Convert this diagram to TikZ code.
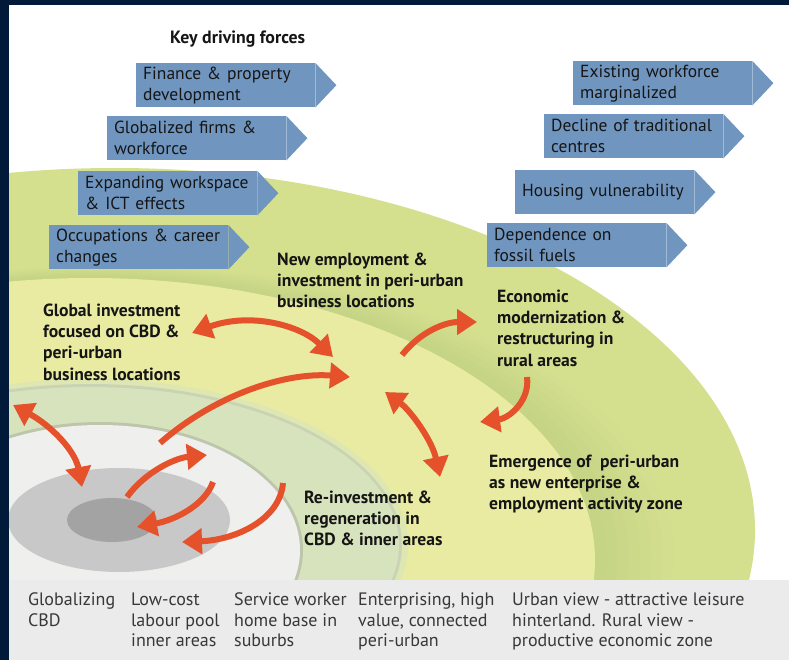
\documentclass[tikz,border=0pt]{standalone}
\usepackage{fontspec}
\setmainfont{PT Sans}
\newfontfamily\legendfont{PT Sans}
\usetikzlibrary{arrows.meta,calc}

\definecolor{navy}{HTML}{021A3A}
\definecolor{outergreen}{HTML}{D5E08F}
\definecolor{bandgreen}{HTML}{C3D283}
\definecolor{paleyellow}{HTML}{E9EBA2}
\definecolor{lightgreen}{HTML}{D7E3BD}
\definecolor{offwhite}{HTML}{EFEFEE}
\definecolor{midgray}{HTML}{C8C8C8}
\definecolor{darkgray}{HTML}{A3A3A3}
\definecolor{boxblue}{HTML}{7096C0}
\definecolor{arroworange}{HTML}{E4512B}
\definecolor{panelgray}{HTML}{EAEBEA}
\definecolor{inktext}{HTML}{151515}

\tikzset{
  forcebox/.style={fill=boxblue, inner xsep=7pt, inner ysep=0pt, minimum height=44pt,
    text width=165pt, align=left, anchor=north west, text=inktext,
    font=\fontsize{17.5}{21}\selectfont},
  zonelabel/.style={anchor=north west, align=left, inner sep=0pt, text=inktext,
    font=\bfseries\fontsize{17.6}{21.3}\selectfont},
  legendtext/.style={anchor=north west, align=left, inner sep=0pt, text=inktext!85,
    font=\legendfont\fontsize{18}{20.7}\selectfont},
  flow/.style={draw=arroworange, line width=6pt,
    arrows={-Triangle[length=20pt,width=25pt]}},
  flowboth/.style={draw=arroworange, line width=6pt,
    arrows={Triangle[length=20pt,width=25pt]-Triangle[length=20pt,width=25pt]}}
}

\begin{document}
\begin{tikzpicture}[x=1pt,y=-1pt]
\useasboundingbox (0,0) rectangle (789,660);
\fill[white] (0,0) rectangle (789,660);

% ---- concentric zones ----
\begin{scope}
\clip (9,5) rectangle (789,580);
\fill[outergreen] (115,530) ellipse [x radius=640pt, y radius=362pt];
\foreach \i in {0,...,8}{
  \pgfmathsetmacro\cx{120-30*\i/8}
  \pgfmathsetmacro\cy{555+5*\i/8}
  \pgfmathsetmacro\rx{565-60*\i/8}
  \pgfmathsetmacro\ry{292-10*\i/8}
  \pgfmathtruncatemacro\pc{100*\i/8}
  \fill[bandgreen!\pc!outergreen] (\cx,\cy) ellipse [x radius=\rx*1pt, y radius=\ry*1pt];
}
\fill[paleyellow] (90,560) ellipse [x radius=505pt, y radius=282pt];
\fill[lightgreen!60!paleyellow] (90,545) ellipse [x radius=318pt, y radius=166pt];
\fill[lightgreen!85!gray] (90,545) ellipse [x radius=312pt, y radius=161pt];
\fill[lightgreen] (90,545) ellipse [x radius=309pt, y radius=158pt];
\fill[lightgreen!70!gray] (100,550) ellipse [x radius=203pt, y radius=128pt];
\fill[offwhite] (100,550) ellipse [x radius=200pt, y radius=125pt];
\fill[midgray] (119,520) ellipse [x radius=111pt, y radius=52pt];
\fill[darkgray] (112,520) ellipse [x radius=45pt, y radius=22pt];
\end{scope}

% ---- frame and legend panel ----
\fill[panelgray] (9,580) rectangle (789,660);
\fill[navy] (0,0) rectangle (9,660);
\fill[navy] (0,0) rectangle (789,5);

% ---- title ----
\node[anchor=north west, inner sep=0pt, text=inktext, font=\bfseries\fontsize{17.8}{20}\selectfont]
  (title) at (170,31) {Key driving forces};

% ---- driving force boxes ----
\node[forcebox] (f1) at (136,63) {Finance \& property\\development};
\node[forcebox] (f2) at (107,116) {Globalized firms \&\\workforce};
\node[forcebox] (f3) at (78,171) {Expanding workspace\\\& ICT effects};
\node[forcebox] (f4) at (49,225) {Occupations \& career\\changes};
\node[forcebox] (r1) at (573,61) {Existing workforce\\marginalized};
\node[forcebox] (r2) at (544,114) {Decline of traditional\\centres};
\node[forcebox] (r3) at (515,170) {Housing vulnerability};
\node[forcebox] (r4) at (487,223) {Dependence on\\fossil fuels};
\foreach \n in {f1,f2,f3,f4,r1,r2,r3,r4}{
  \fill[boxblue] (\n.north east) -- ([xshift=21pt]\n.east) -- (\n.south east) -- cycle;
}

% ---- zone labels ----
\node[zonelabel] (global) at (43,303.5) {Global investment\\focused on CBD \&\\peri-urban\\business locations};
\node[zonelabel] (newemp) at (277,252.5) {New employment \&\\investment in peri-urban\\business locations};
\node[zonelabel] (econ) at (497,289.5) {Economic\\modernization \&\\restructuring in\\rural areas};
\node[zonelabel] (emerg) at (489,454.5) {Emergence of\ \ peri-urban\\as new enterprise \&\\employment activity zone};
\node[zonelabel] (reinv) at (304,490.5) {Re-investment \&\\regeneration in\\CBD \& inner areas};

% ---- arrow end points ----
\coordinate (a1s) at (192,333); \coordinate (a1e) at (333,357);
\coordinate (a2s) at (160,443); \coordinate (a2e) at (350,377);
\coordinate (a3s) at (13,405);  \coordinate (a3e) at (82,487);
\coordinate (a4s) at (127,497); \coordinate (a4e) at (207,455);
\coordinate (a5s) at (213,482); \coordinate (a5e) at (137,527);
\coordinate (a6s) at (283,483); \coordinate (a6e) at (182,542);
\coordinate (a7s) at (402,355); \coordinate (a7e) at (477,322);
\coordinate (a8s) at (527,377); \coordinate (a8e) at (480,422);
\coordinate (a9s) at (385,392); \coordinate (a9e) at (440,477);

\draw[flowboth] (a1s) .. controls (250,312) and (300,325) .. (a1e);
\draw[flow] (a2s) .. controls (215,395) and (285,372) .. (a2e);
\draw[flowboth] (a3s) .. controls (50,425) and (75,450) .. (a3e);
\draw[flow] (a4s) .. controls (145,472) and (175,458) .. (a4e);
\draw[flow] (a5s) .. controls (205,505) and (175,520) .. (a5e);
\draw[flow] (a6s) .. controls (280,520) and (235,540) .. (a6e);
\draw[flow] (a7s) .. controls (420,332) and (445,322) .. (a7e);
\draw[flow] (a8s) .. controls (530,400) and (510,418) .. (a8e);
\draw[flowboth] (a9s) .. controls (410,410) and (432,440) .. (a9e);

% ---- legend ----
\node[legendtext] (lg1) at (28,592.5) {Globalizing\\CBD};
\node[legendtext] (lg2) at (131,592.5) {Low-cost\\labour pool\\inner areas};
\node[legendtext] (lg3) at (234,592.5) {Service worker\\home base in\\suburbs};
\node[legendtext] (lg4) at (358,592.5) {Enterprising, high\\value, connected\\peri-urban};
\node[legendtext] (lg5) at (512,592.5) {Urban view - attractive leisure\\hinterland. Rural view -\\productive economic zone};
\end{tikzpicture}
\end{document}
